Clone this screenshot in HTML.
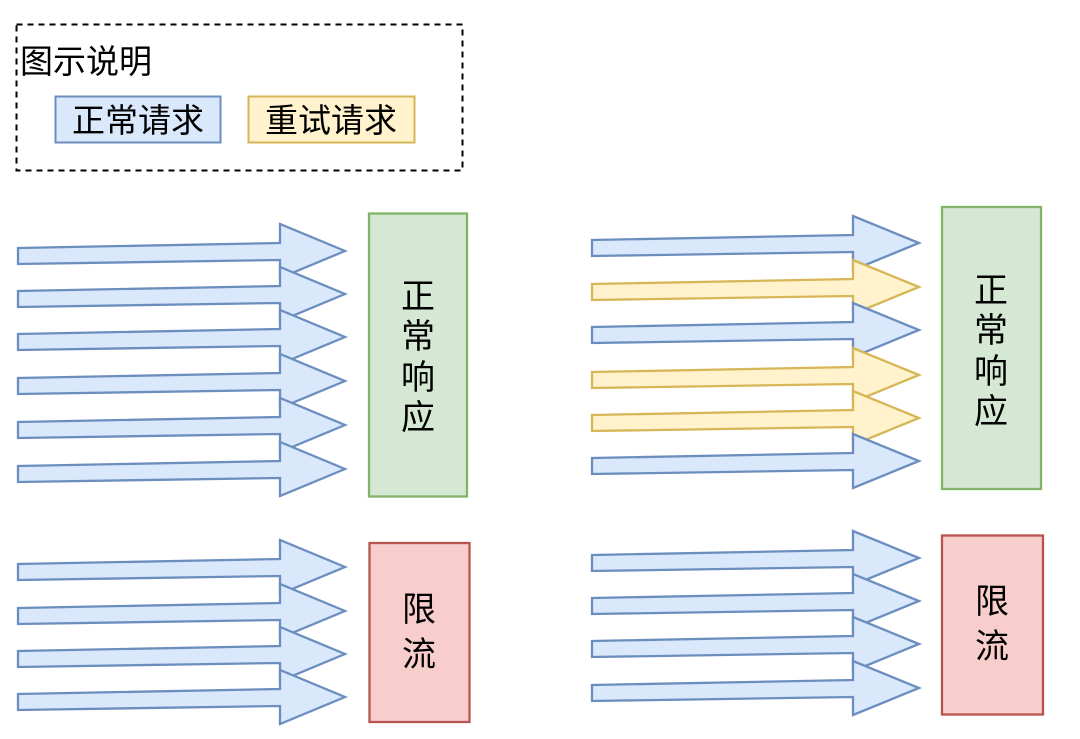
<!DOCTYPE html>
<html><head><meta charset="utf-8"><style>
html,body{margin:0;padding:0;background:#fff;}
svg{display:block;}
text{font-family:"Liberation Sans","Noto Sans CJK SC",sans-serif;fill:#000;}
</style></head><body>
<svg width="1080" height="739" viewBox="0 0 1080 739" xmlns="http://www.w3.org/2000/svg">
<rect x="16.5" y="24.5" width="446" height="146" fill="none" stroke="#000" stroke-width="2" stroke-dasharray="6,5"/>
<text x="20" y="73" font-size="33">图示说明</text>
<rect x="55.5" y="96.5" width="165" height="46" fill="#dae8fc" stroke="#6c8ebf" stroke-width="2"/>
<text x="138" y="132" font-size="33" text-anchor="middle">正常请求</text>
<rect x="248.5" y="96.5" width="166" height="46" fill="#fff2cc" stroke="#d6b656" stroke-width="2"/>
<text x="331" y="132" font-size="33" text-anchor="middle">重试请求</text>

<g stroke-width="2.3" stroke-linejoin="miter">
<g fill="#dae8fc" stroke="#6c8ebf">
<polygon points="18,248 280,243 280,224 345,251 280,278 280,260 18,264"/>
<polygon points="18,291 280,286 280,267 345,294 280,321 280,303 18,307"/>
<polygon points="18,334 280,329 280,310 345,337 280,364 280,346 18,350"/>
<polygon points="18,378 280,373 280,354 345,381 280,408 280,390 18,394"/>
<polygon points="18,422 280,417 280,398 345,425 280,452 280,434 18,438"/>
<polygon points="18,466 280,461 280,442 345,469 280,496 280,478 18,482"/>
<polygon points="18,564 280,559 280,540 345,567 280,594 280,576 18,580"/>
<polygon points="18,608 280,603 280,584 345,611 280,638 280,620 18,624"/>
<polygon points="18,651 280,646 280,627 345,654 280,681 280,663 18,667"/>
<polygon points="18,694 280,689 280,670 345,697 280,724 280,706 18,710"/>
<polygon points="592,555 853,550 853,531 919,558 853,585 853,567 592,571"/>
<polygon points="592,598 853,593 853,574 919,601 853,628 853,610 592,614"/>
<polygon points="592,641 853,636 853,617 919,644 853,671 853,653 592,657"/>
<polygon points="592,685 853,680 853,661 919,688 853,715 853,697 592,701"/>
</g>
<polygon fill="#dae8fc" stroke="#6c8ebf" points="592,240 853,235 853,216 919,243 853,270 853,252 592,256"/>
<polygon fill="#fff2cc" stroke="#d6b656" points="592,284 853,279 853,260 919,287 853,314 853,296 592,300"/>
<polygon fill="#dae8fc" stroke="#6c8ebf" points="592,327 853,322 853,303 919,330 853,357 853,339 592,343"/>
<polygon fill="#fff2cc" stroke="#d6b656" points="592,372 853,367 853,348 919,375 853,402 853,384 592,388"/>
<polygon fill="#fff2cc" stroke="#d6b656" points="592,415 853,410 853,391 919,418 853,445 853,427 592,431"/>
<polygon fill="#dae8fc" stroke="#6c8ebf" points="592,458 853,453 853,434 919,461 853,488 853,470 592,474"/>
</g>

<rect x="369" y="213.5" width="98" height="283" fill="#d5e8d4" stroke="#82b366" stroke-width="2.3"/>
<g font-size="34" text-anchor="middle">
<text x="418" y="308">正</text><text x="418" y="348">常</text><text x="418" y="389">响</text><text x="418" y="429">应</text>
</g>
<rect x="942" y="207" width="99" height="282" fill="#d5e8d4" stroke="#82b366" stroke-width="2.3"/>
<g font-size="34" text-anchor="middle">
<text x="991" y="302">正</text><text x="991" y="342">常</text><text x="991" y="383">响</text><text x="991" y="423">应</text>
</g>
<rect x="369.5" y="543" width="100" height="179" fill="#f8cecc" stroke="#b85450" stroke-width="2.3"/>
<g font-size="34" text-anchor="middle">
<text x="419" y="621">限</text><text x="419" y="666">流</text>
</g>
<rect x="942" y="535.5" width="101" height="179" fill="#f8cecc" stroke="#b85450" stroke-width="2.3"/>
<g font-size="34" text-anchor="middle">
<text x="992" y="613">限</text><text x="992" y="658">流</text>
</g>
</svg>
</body></html>
